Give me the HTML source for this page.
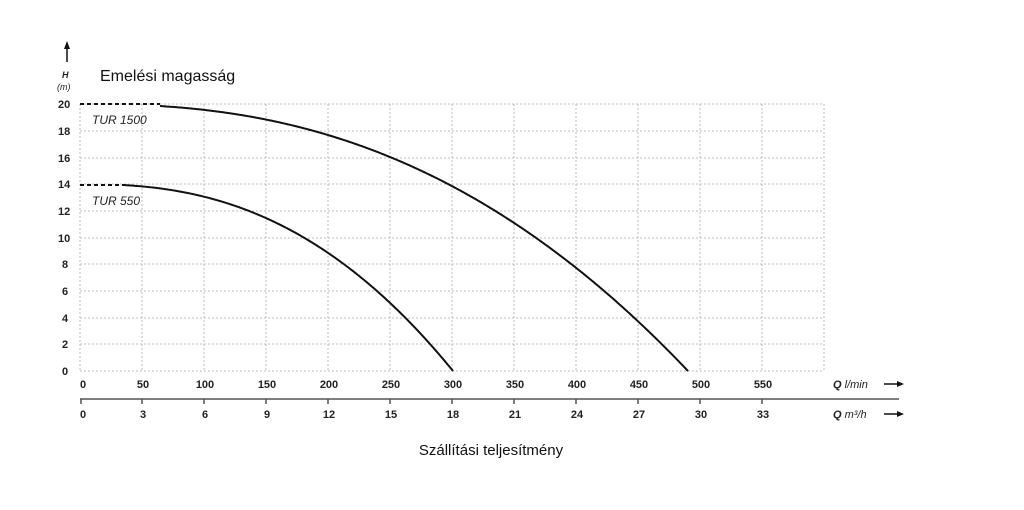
<!DOCTYPE html>
<html><head><style>body{margin:0;background:#fff}svg{display:block}</style></head><body>
<svg width="1024" height="510" xmlns="http://www.w3.org/2000/svg" font-family="Liberation Sans, sans-serif">
<g stroke="#bbb" stroke-width="1" stroke-dasharray="2,2" fill="none">
<path d="M80,104H824M80,131H824M80,158H824M80,184H824M80,211H824M80,238H824M80,264H824M80,291H824M80,318H824M80,344H824M80,371H824"/>
<path d="M80,104V371M142,104V371M204,104V371M266,104V371M328,104V371M390,104V371M452,104V371M514,104V371M576,104V371M638,104V371M700,104V371M762,104V371M824,104V371"/>
</g>
<g font-size="11" font-weight="bold" fill="#222">
<text x="58" y="108">20</text><text x="58" y="135">18</text><text x="58" y="162">16</text><text x="58" y="188">14</text><text x="58" y="215">12</text><text x="58" y="242">10</text>
<text x="62" y="268">8</text><text x="62" y="295">6</text><text x="62" y="322">4</text><text x="62" y="348">2</text><text x="62" y="375">0</text>
</g>
<g font-size="11" font-weight="bold" fill="#222" text-anchor="middle">
<text x="83" y="388">0</text><text x="143" y="388">50</text><text x="205" y="388">100</text><text x="267" y="388">150</text><text x="329" y="388">200</text><text x="391" y="388">250</text><text x="453" y="388">300</text><text x="515" y="388">350</text><text x="577" y="388">400</text><text x="639" y="388">450</text><text x="701" y="388">500</text><text x="763" y="388">550</text>
<text x="83" y="418">0</text><text x="143" y="418">3</text><text x="205" y="418">6</text><text x="267" y="418">9</text><text x="329" y="418">12</text><text x="391" y="418">15</text><text x="453" y="418">18</text><text x="515" y="418">21</text><text x="577" y="418">24</text><text x="639" y="418">27</text><text x="701" y="418">30</text><text x="763" y="418">33</text>
</g>
<path d="M80,399H899" stroke="#555" stroke-width="1.5"/>
<g stroke="#555" stroke-width="1.5"><path d="M81,399v5M142,399v5M204,399v5M266,399v5M328,399v5M390,399v5M452,399v5M514,399v5M576,399v5M638,399v5M700,399v5M762,399v5"/></g>
<text x="833" y="388" font-size="11" fill="#222" font-style="italic"><tspan font-weight="bold">Q</tspan> l/min</text>
<text x="833" y="418" font-size="11" fill="#222" font-style="italic"><tspan font-weight="bold">Q</tspan> m³/h</text>
<g stroke="#111" stroke-width="1.5"><path d="M884,384H902M884,414H902"/></g>
<path d="M904,384l-7,-3v6zM904,414l-7,-3v6z" fill="#111"/>
<path d="M67,62V48" stroke="#111" stroke-width="1.5"/><path d="M67,41l-3,8h6z" fill="#111"/>
<text x="62" y="78" font-size="9" font-weight="bold" font-style="italic" fill="#222">H</text>
<text x="57" y="90" font-size="9" font-style="italic" fill="#222">(m)</text>
<text x="100" y="81" font-size="16" fill="#111">Emelési magasság</text>
<text x="491" y="455" font-size="15" fill="#111" text-anchor="middle">Szállítási teljesítmény</text>
<g fill="none" stroke="#111" stroke-width="2" stroke-linejoin="round">
<path d="M80,104H160" stroke-dasharray="4,3"/>
<path id="c1" d="M160,105L688,371"/>
<path d="M80,185H125" stroke-dasharray="4,3"/>
<path id="c2" d="M125,186L453,371"/>
</g>
<text x="92" y="124" font-size="12" font-style="italic" fill="#222">TUR 1500</text>
<text x="92" y="205" font-size="12" font-style="italic" fill="#222">TUR 550</text>
<script>
function mk(id,x0,qmax,h0,n){var d="",s=13.35;for(var x=x0;x<=80+qmax+0.01;x+=2){var u=(x-80)/qmax;if(u>1)u=1;var y=371-h0*(1-Math.pow(u,n))*s;d+=(d?"L":"M")+x.toFixed(1)+","+y.toFixed(2);}
d+="L"+(80+qmax)+",371";document.getElementById(id).setAttribute("d",d);}
mk("c1",160,608,20,2.4);mk("c2",125,373,14,2.45);
</script>
</svg>
</body></html>
